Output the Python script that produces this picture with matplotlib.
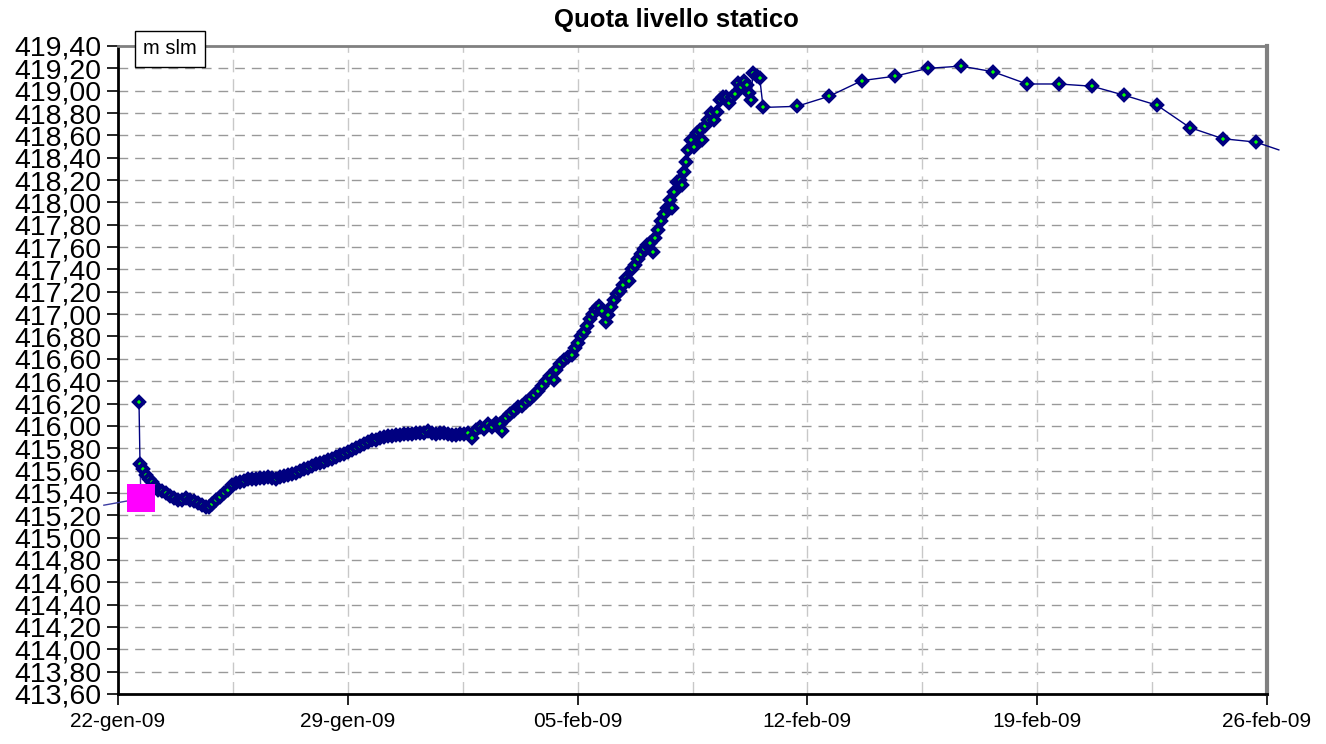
import datetime as dt

import matplotlib.pyplot as plt
import matplotlib.dates as mdates
from matplotlib.ticker import FuncFormatter, MultipleLocator, FixedLocator

plt.rcParams["font.family"] = ["Liberation Sans", "DejaVu Sans"]

# giorni dal 22-gen-09, quota in m slm
days = [
    0.64, 0.67, 0.76, 0.85, 0.94, 1.04, 1.13, 1.22, 1.34, 1.46, 1.58, 1.71, 1.83, 1.95,
    2.07, 2.19, 2.31, 2.44, 2.56, 2.68, 2.77, 2.86, 2.99, 3.11, 3.23, 3.35, 3.47, 3.59,
    3.72, 3.84, 3.96, 4.08, 4.20, 4.33, 4.45, 4.57, 4.69, 4.81, 4.93, 5.06, 5.18, 5.30,
    5.42, 5.54, 5.67, 5.79, 5.91, 6.03, 6.15, 6.27, 6.40, 6.52, 6.64, 6.76, 6.88, 7.01,
    7.13, 7.25, 7.37, 7.49, 7.62, 7.74, 7.86, 7.98, 8.10, 8.22, 8.35, 8.47, 8.59, 8.71,
    8.83, 8.96, 9.08, 9.20, 9.32, 9.44, 9.56, 9.69, 9.81, 9.93, 10.05, 10.17, 10.30,
    10.42, 10.54, 10.66, 10.78, 10.90, 11.03, 11.15, 11.27, 11.39, 11.51, 11.64, 11.70,
    11.82, 11.94, 12.06, 12.18, 12.31, 12.43, 12.55, 12.67, 12.79, 12.91, 13.04, 13.16,
    13.28, 13.34, 13.46, 13.59, 13.71, 13.83, 13.92, 14.01, 14.10, 14.19, 14.29, 14.38,
    14.47, 14.56, 14.65, 14.74, 14.86, 14.93, 15.02, 15.11, 15.20, 15.29, 15.38, 15.47,
    15.57, 15.66, 15.75, 15.84, 15.93, 16.02, 16.11, 16.20, 16.30, 16.36, 16.45, 16.54,
    16.63, 16.72, 16.81, 16.87, 16.94, 17.03, 17.12, 17.18, 17.24, 17.30, 17.36, 17.45,
    17.54, 17.64, 17.73, 17.79, 17.88, 17.97, 18.06, 18.15, 18.25, 18.34, 18.43, 18.52,
    18.61, 18.70, 18.79, 18.88, 18.98, 19.07, 19.16, 19.22, 19.28, 19.34, 19.46, 19.55,
    19.65, 20.68, 21.66, 22.66, 23.67, 24.67, 25.68, 26.65, 27.69, 28.66, 29.67, 30.64,
    31.65, 32.65, 33.66, 34.66,
]
levels = [
    416.21, 415.66, 415.61, 415.56, 415.52, 415.50, 415.46, 415.43, 415.42, 415.40,
    415.37, 415.35, 415.34, 415.34, 415.35, 415.34, 415.33, 415.31, 415.29, 415.27,
    415.27, 415.30, 415.34, 415.36, 415.40, 415.43, 415.47, 415.49, 415.50, 415.51,
    415.52, 415.52, 415.52, 415.53, 415.53, 415.54, 415.53, 415.52, 415.54, 415.55,
    415.56, 415.57, 415.58, 415.60, 415.61, 415.62, 415.64, 415.66, 415.67, 415.68,
    415.69, 415.70, 415.72, 415.74, 415.75, 415.77, 415.78, 415.80, 415.82, 415.84,
    415.86, 415.87, 415.87, 415.89, 415.90, 415.91, 415.91, 415.92, 415.92, 415.93,
    415.93, 415.93, 415.94, 415.94, 415.94, 415.95, 415.94, 415.93, 415.94, 415.94,
    415.93, 415.92, 415.92, 415.93, 415.93, 415.94, 415.89, 415.96, 415.99, 415.97,
    416.02, 415.99, 416.03, 416.02, 415.95, 416.07, 416.11, 416.13, 416.17, 416.18,
    416.21, 416.24, 416.28, 416.31, 416.36, 416.40, 416.45, 416.41, 416.50, 416.55,
    416.59, 416.62, 416.63, 416.70, 416.74, 416.80, 416.84, 416.89, 416.96, 417.00,
    417.05, 417.07, 417.03, 416.93, 416.99, 417.06, 417.13, 417.18, 417.21, 417.26,
    417.32, 417.30, 417.40, 417.44, 417.49, 417.54, 417.58, 417.62, 417.64, 417.56,
    417.68, 417.75, 417.83, 417.90, 417.95, 418.02, 417.95, 418.09, 418.18, 418.20,
    418.16, 418.27, 418.36, 418.47, 418.56, 418.50, 418.62, 418.65, 418.56, 418.68,
    418.74, 418.80, 418.74, 418.81, 418.92, 418.94, 418.94, 418.89, 418.94, 418.97,
    419.07, 419.03, 419.09, 419.05, 418.98, 418.92, 419.16, 419.13, 419.11, 418.85,
    418.86, 418.95, 419.09, 419.13, 419.20, 419.22, 419.17, 419.06, 419.06, 419.04,
    418.96, 418.87, 418.67, 418.57, 418.54,
]
# tratti di linea che escono dal riquadro
tail_day, tail_level = 35.36, 418.47
lead_days = [-0.43, 0.70, 0.67]
lead_levels = [415.29, 415.35, 415.66]
pink_day, pink_level = 0.70, 415.35

months_it = ["gen", "feb", "mar", "apr", "mag", "giu", "lug", "ago", "set", "ott", "nov", "dic"]
start = dt.datetime(2009, 1, 22)
end = dt.datetime(2009, 2, 26)

to_date = lambda d: start + dt.timedelta(days=d)
dates = [to_date(d) for d in days]

fig = plt.figure(figsize=(13.26, 7.44), dpi=100)
ax = fig.add_axes([118 / 1326, 1 - 694 / 744, (1267 - 118) / 1326, (694 - 46) / 744])

navy = "#000080"
ax.plot([to_date(d) for d in lead_days], lead_levels, color="#3a3aa0", lw=1, clip_on=False, zorder=3)
ax.plot(dates + [to_date(tail_day)], levels + [tail_level], color=navy, lw=1, clip_on=False, zorder=3)
ax.plot(dates, levels, ls="none", marker="D", ms=5.0, mfc="#00ff00", mec=navy, mew=2.9, zorder=4)
ax.plot([to_date(pink_day)], [pink_level], ls="none", marker="s", ms=20, color="#ff00ff", mew=0, zorder=5)

ax.set_xlim(start, end)
ax.set_ylim(413.6, 419.4)
ax.yaxis.set_major_locator(MultipleLocator(0.2))
ax.yaxis.set_major_formatter(FuncFormatter(lambda v, p: f"{v:.2f}".replace(".", ",")))
week_ticks = [mdates.date2num(start) + 7 * i for i in range(6)]
ax.xaxis.set_major_locator(FixedLocator(week_ticks))
ax.xaxis.set_major_formatter(FuncFormatter(
    lambda v, p: (lambda t: f"{t.day:02d}-{months_it[t.month - 1]}-{t:%y}")(mdates.num2date(v))))

# griglia: orizzontale ogni 0,20 e verticale ogni 3,5 giorni
for v in [413.6 + 0.2 * i for i in range(1, 29)]:
    ax.axhline(v, color="#999999", lw=1, dashes=(7, 5), zorder=1)
for i in range(1, 10):
    ax.axvline(mdates.date2num(start) + 3.5 * i, color="#c8c8c8", lw=1, dashes=(9, 5), zorder=1)

ax.tick_params(axis="y", direction="out", length=8, width=1.2, labelsize=20.5, pad=4)
ax.tick_params(axis="x", direction="out", length=8, width=1.2, labelsize=15, pad=5)
ax.spines["left"].set_linewidth(2)
ax.spines["bottom"].set_linewidth(2)
ax.spines["top"].set_color("#808080")
ax.spines["top"].set_linewidth(2)
ax.spines["right"].set_color("#808080")
ax.spines["right"].set_linewidth(3)

fig.text(676 / 1326, 1 - 20 / 744, "Quota livello statico", ha="center", va="center",
         fontsize=18.5, fontweight="bold")
fig.text(170 / 1326, 1 - 49 / 744, "m slm", ha="center", va="center", fontsize=14.5,
         bbox=dict(boxstyle="square,pad=0.42", fc="white", ec="black", lw=1))

fig.savefig("out.png", dpi=100)
